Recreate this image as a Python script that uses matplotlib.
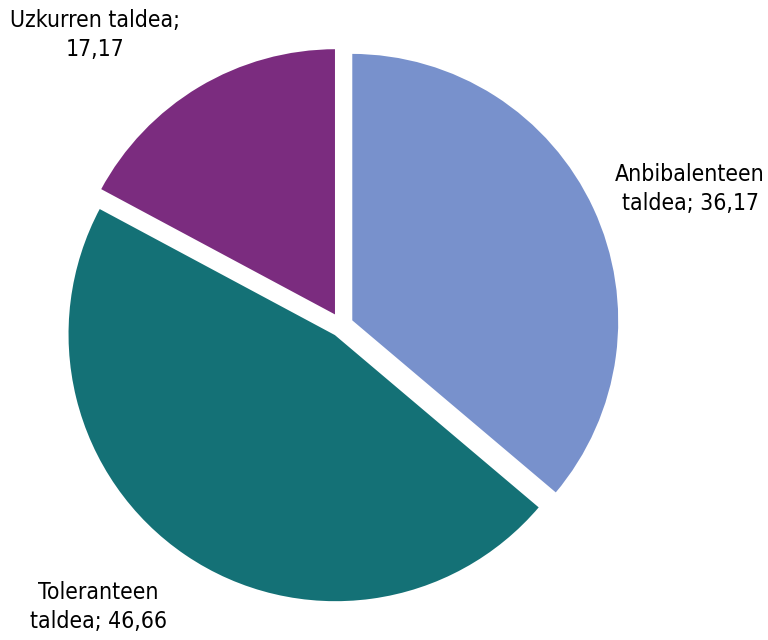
import numpy as np
import matplotlib.pyplot as plt

labels = ["Anbibalenteen\ntaldea; 36,17", "Toleranteen\ntaldea; 46,66", "Uzkurren taldea;\n17,17"]
values = [36.17, 46.66, 17.17]
colors = ["#7891CC", "#147176", "#7B2C7F"]

plt.rcParams['font.family'] = ['DejaVu Sans']

fig = plt.figure(figsize=(7.68, 6.4), dpi=100)
ax = fig.add_axes([0, 0, 1, 1])
ax.pie(values, colors=colors, startangle=90, counterclock=False,
       explode=[0.04, 0.04, 0.04], radius=1.0,
       wedgeprops=dict(edgecolor='white', linewidth=1.5))
ax.set_xlim(-1.274, 1.591)
ax.set_ylim(-1.174, 1.214)
ax.set_aspect('equal')
ax.axis('off')

# label positions in figure pixels (x, y from top)
pos = [(690, 189), (98, 607), (95, 35)]
for lab, (px, py) in zip(labels, pos):
    fig.text(px / 768, 1 - py / 640, lab, ha='center', va='center',
             fontsize=16.5, fontstretch='condensed', color='black',
             linespacing=1.3)

fig.savefig("out.png", dpi=100, facecolor='white')
